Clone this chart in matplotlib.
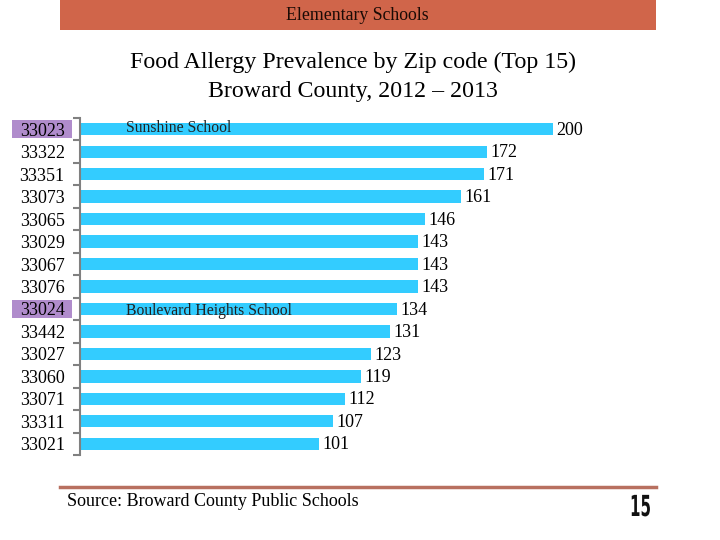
import matplotlib.pyplot as plt
from matplotlib.patches import Rectangle, PathPatch
from matplotlib.lines import Line2D
from matplotlib.textpath import TextPath
from matplotlib.font_manager import FontProperties
import matplotlib.transforms as mtransforms
import numpy as np

plt.rcParams['font.family'] = ['Liberation Serif', 'DejaVu Serif']

zips = ["33023", "33322", "33351", "33073", "33065", "33029", "33067", "33076",
        "33024", "33442", "33027", "33060", "33071", "33311", "33021"]
counts = [200, 172, 171, 161, 146, 143, 143, 143, 134, 131, 123, 119, 112, 107, 101]
highlight = ["33023", "33024"]
schools = {"33023": "Sunshine School", "33024": "Boulevard Heights School"}

bar_color = "#33CCFF"

fig = plt.figure(figsize=(7.2, 5.4), dpi=100)

# top banner
fig.patches.append(Rectangle((60/720, 1-30/540), 596/720, 30/540, transform=fig.transFigure,
                             facecolor="#D0654A", edgecolor="none"))
fig.text(357/720, 1-15/540, "Elementary Schools", ha="center", va="center", fontsize=12.8, color="#1a0a05")

fig.text(353/720, 1-77/540, "Food Allergy Prevalence by Zip code (Top 15)\nBroward County, 2012 \u2013 2013",
         ha="center", va="center", fontsize=17.2, linespacing=1.45)

ax = fig.add_axes([80/720, 1-455/540, 591/720, 337/540])
y = np.arange(len(zips))
ax.barh(y, counts, height=0.55, color=bar_color)
ax.set_xlim(0, 250)
ax.set_ylim(len(zips) - 0.5, -0.5)

for sp in ["top", "right", "bottom"]:
    ax.spines[sp].set_visible(False)
ax.spines["left"].set_color("#808080")
ax.spines["left"].set_linewidth(1.5)
ax.set_xticks([])
ax.set_yticks(y)
ax.set_yticklabels(zips, fontsize=13)
ax.tick_params(axis="y", which="major", length=0, pad=11)
ax.set_yticks(np.arange(len(zips) + 1) - 0.5, minor=True)
ax.tick_params(axis="y", which="minor", length=5, width=1.5, color="#808080")

# purple boxes behind highlighted zip codes
trans = mtransforms.blended_transform_factory(ax.transAxes, ax.transData)
for i, z in enumerate(zips):
    if z in highlight:
        ax.add_patch(Rectangle((-68/591, i - 0.4), 60/591, 0.8, transform=trans,
                               facecolor="#B08CCC", edgecolor="none", clip_on=False, zorder=0))

for i, v in enumerate(counts):
    ax.text(v + 1.5, i + 0.05, str(v), va="center", ha="left", fontsize=13)
    if zips[i] in schools:
        ax.text(19.5, i - 0.05 if i == 0 else i + 0.1, schools[zips[i]],
                va="center", ha="left", fontsize=11.3, color="#222222")

# bottom line and source
fig.lines.append(Line2D([60/720, 656/720], [1-487/540, 1-487/540], transform=fig.transFigure,
                        color="#B87060", linewidth=2.5))
fig.text(67/720, 1-501/540, "Source: Broward County Public Schools", ha="left", va="center", fontsize=13)

# slide number in a condensed bold face (squeezed DejaVu Sans Bold)
tp = TextPath((0, 0), "15", size=29, prop=FontProperties(family="DejaVu Sans", weight="bold"))
num_tf = mtransforms.Affine2D().scale(0.52, 1.0).translate(630, 540 - 516)
fig.patches.append(PathPatch(tp, transform=num_tf, facecolor="#111111", edgecolor="none"))

fig.savefig("out.png", dpi=100)
